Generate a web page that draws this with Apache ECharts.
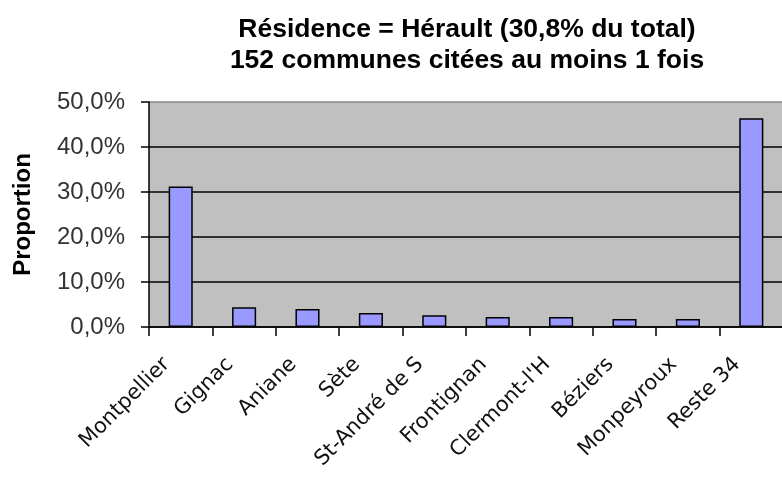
<!DOCTYPE html>
<html>
<head>
<meta charset="utf-8">
<script src="https://cdn.jsdelivr.net/npm/echarts@6/dist/echarts.min.js"></script>
<style>
  html, body { margin: 0; padding: 0; background: #fff; }
  #chart { width: 782px; height: 484px; }
</style>
</head>
<body>
<div id="chart"></div>
<script>
var communes = ['Montpellier', 'Gignac', 'Aniane', 'Sète', 'St-André de S', 'Frontignan', "Clermont-l'H", 'Béziers', 'Monpeyroux', 'Reste 34'];
var proportions = [31.2, 4.4, 4.0, 3.1, 2.6, 2.2, 2.2, 1.8, 1.8, 46.4];
var yTicks = [0, 10, 20, 30, 40, 50];

var myChart = echarts.init(document.getElementById('chart'));

var option = {
    animation: false,
    title: {
        text: 'Résidence = Hérault (30,8% du total)\n152 communes citées au moins 1 fois',
        left: 462,
        top: 9,
        textAlign: 'center',
        textStyle: {
            fontFamily: '"Liberation Sans", Arial, sans-serif',
            fontWeight: 'bold',
            fontSize: 26.5,
            lineHeight: 31,
            color: '#000'
        }
    },
    grid: {
        left: 149,
        top: 102,
        width: 634,
        height: 225,
        outerBoundsMode: 'none',
        containLabel: false,
        show: true,
        backgroundColor: '#c0c0c0',
        borderWidth: 0
    },
    xAxis: {
        type: 'category',
        data: communes,
        axisLine: { lineStyle: { color: '#000', width: 1.5 } },
        axisTick: { show: true, length: 9, lineStyle: { color: '#000', width: 1.5 } },
        axisLabel: {
            rotate: 45,
            interval: 0,
            margin: 20,
            padding: [0, 20, 0, 0],
            fontFamily: '"DejaVu Sans", Verdana, sans-serif',
            fontSize: 21,
            color: '#111'
        }
    },
    yAxis: {
        type: 'value',
        min: 0,
        max: 50,
        interval: 10,
        name: 'Proportion',
        nameLocation: 'middle',
        nameGap: 114,
        nameRotate: 90,
        nameTextStyle: {
            fontFamily: '"Liberation Sans", Arial, sans-serif',
            fontWeight: 'bold',
            fontSize: 24,
            color: '#000'
        },
        axisLine: { show: true, lineStyle: { color: '#000', width: 1.5 } },
        axisTick: { show: true, length: 8, lineStyle: { color: '#000', width: 1.5 } },
        axisLabel: {
            margin: 24,
            fontFamily: '"Liberation Sans", Arial, sans-serif',
            fontSize: 24,
            color: '#333',
            formatter: function (v) {
                return yTicks.indexOf(v) >= 0 ? v.toFixed(1).replace('.', ',') + '%' : '';
            }
        },
        splitLine: {
            show: true,
            lineStyle: {
                color: ['#000', '#000', '#000', '#000', '#000', '#888'],
                width: 1.5
            }
        }
    },
    series: [{
        type: 'bar',
        data: proportions,
        barWidth: '38%',
        itemStyle: {
            color: '#9999ff',
            borderColor: '#000',
            borderWidth: 1.5
        }
    }]
};

myChart.setOption(option);
</script>
</body>
</html>
